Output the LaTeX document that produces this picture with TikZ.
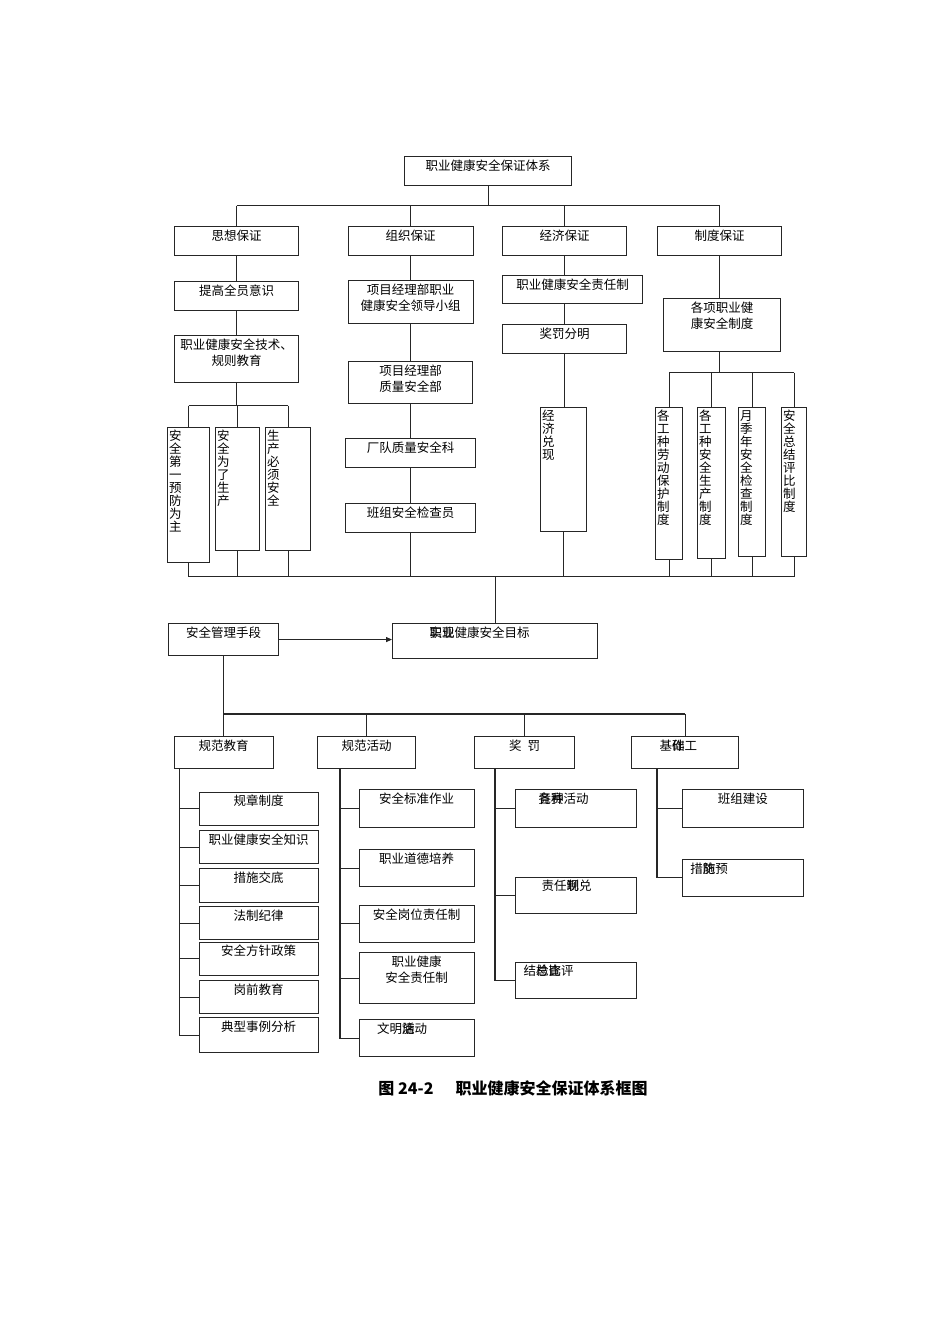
\documentclass[tikz,border=0pt]{standalone}
\usepackage{fontspec}
\setmainfont{Noto Sans CJK SC}
\usetikzlibrary{arrows.meta,calc}
\tikzset{
  bx/.style 2 args={
    draw=black!85, line width=1.1pt, anchor=north west,
    inner xsep=0pt, inner ysep=2.5pt, text width=#1pt,
    text height=11pt, text depth=#2pt-16pt, align=center,
    font=\fontsize{12.5}{16}\selectfont
  },
  vbx/.style 2 args={
    draw=black!85, line width=1.1pt, anchor=north west,
    inner xsep=1.5pt, inner ysep=2pt, text width=#1pt,
    text height=10.5pt, text depth=#2pt-14.5pt, align=left,
    font=\fontsize{12.5}{13}\selectfont
  },
  ln/.style={draw=black!85, line width=1.1pt},
  arr/.style={ln, -{Triangle[length=6pt,width=5pt]}}
}
\begin{document}
\begin{tikzpicture}[x=1pt, y=-1pt]
\useasboundingbox (0,0) rectangle (950,1344);

% upper part
\node[bx={167}{29}] (tp) at (404,156) {职业健康安全保证体系};
\node[bx={124}{29}] (sx) at (174,226) {思想保证};
\node[bx={125}{29}] (zz) at (347.5,226) {组织保证};
\node[bx={124}{29}] (jj) at (502,226) {经济保证};
\node[bx={124}{29}] (zd) at (657,226) {制度保证};

\node[bx={124}{29}] (sx1) at (174,281) {提高全员意识};
\node[bx={124}{47}] (sx2) at (174,335) {职业健康安全技术、\\规则教育};
\node[vbx={39}{135}] (sx3) at (167,427) {安\\全\\第\\一\\预\\防\\为\\主};
\node[vbx={41}{123}] (sx4) at (215,427) {安\\全\\为\\了\\生\\产};
\node[vbx={42}{123}] (sx5) at (265,427) {生\\产\\必\\须\\安\\全};

\node[bx={125}{43}] (zz1) at (347.5,280) {项目经理部职业\\健康安全领导小组};
\node[bx={124}{42}] (zz2) at (348,361) {项目经理部\\质量安全部};
\node[bx={130}{29}] (zz3) at (345,438) {厂队质量安全科};
\node[bx={130}{29}] (zz4) at (345,503) {班组安全检查员};

\node[bx={140}{28}] (jj1) at (502,275) {职业健康安全责任制};
\node[bx={124}{28.5}] (jj2) at (502,324) {奖罚分明};
\node[vbx={43}{124}] (jj3) at (540,407) {经\\济\\兑\\现};

\node[bx={117}{53}] (zd1) at (663,298) {各项职业健\\康安全制度};
\node[vbx={24}{152}] (zd2) at (655,407) {各\\工\\种\\劳\\动\\保\\护\\制\\度};
\node[vbx={25}{151}] (zd3) at (697,407) {各\\工\\种\\安\\全\\生\\产\\制\\度};
\node[vbx={24}{149}] (zd4) at (738,407) {月\\季\\年\\安\\全\\检\\查\\制\\度};
\node[vbx={22}{149}] (zd5) at (781,407) {安\\全\\总\\结\\评\\比\\制\\度};

\coordinate (bus1) at (0,205.7);
\coordinate (sp1) at (0,405.7);
\coordinate (sp2) at (0,372.7);
\coordinate (bus2) at (0,576.5);

\draw[ln] (tp.south) -- (tp.south |- bus1);
\draw[ln] (sx.north |- bus1) -- (zd.north |- bus1);
\foreach \n in {sx,zz,jj,zd}
  \draw[ln] (\n.north |- bus1) -- (\n.north);

\draw[ln] (sx.south) -- (sx1.north) (sx1.south) -- (sx2.north);
\draw[ln] (sx2.south) -- (sx2.south |- sp1);
\draw[ln] (sx3.north |- sp1) -- (sx5.north |- sp1);
\foreach \n in {sx3,sx4,sx5}
  \draw[ln] (\n.north |- sp1) -- (\n.north);

\draw[ln] (zz.south) -- (zz1.north) (zz1.south) -- (zz2.north)
  (zz2.south) -- (zz3.north) (zz3.south) -- (zz4.north);

\draw[ln] (jj.south) -- (jj.south |- jj1.north)
  (jj1.south -| jj.south) -- (jj2.north)
  (jj2.south) -- (jj2.south |- jj3.north);

\draw[ln] (zd.south) -- (zd.south |- zd1.north);
\draw[ln] (zd1.south -| zd.south) -- (zd.south |- sp2);
\draw[ln] (zd2.north |- sp2) -- (zd5.north |- sp2);
\foreach \n in {zd2,zd3,zd4,zd5}
  \draw[ln] (\n.north |- sp2) -- (\n.north);

\foreach \n in {sx3,sx4,sx5,zz4,jj3,zd2,zd3,zd4,zd5}
  \draw[ln] (\n.south) -- (\n.south |- bus2);
\draw[ln] (sx3.south |- bus2) -- (zd5.south |- bus2);

% goal and means
\node[bx={205}{34.5}, align=left] (gl) at (392,623) {\hspace*{37pt}\rlap{实现}职业健康安全目标};
\node[bx={110}{32}] (mg) at (168,623) {安全管理手段};
\draw[ln] (gl.north |- bus2) -- (gl.north);
\draw[arr] (mg.east) -- (mg.east -| gl.west);

\node[bx={99}{32}] (g1) at (173.5,736) {规范教育};
\node[bx={98}{32}] (g2) at (317,736) {规范活动};
\node[bx={100}{32}] (g3) at (474,736) {奖\hspace{6pt}罚};
\node[bx={107}{32}, align=left] (g4) at (631,736) {\hspace*{28pt}基\rlap{础}作工};

\coordinate (bus3) at (0,714);
\draw[ln] (mg.south) -- (g1.north);
\draw[ln] (g1.north |- bus3) -- (g4.north |- bus3);
\foreach \n in {g2,g3,g4}
  \draw[ln] (\n.north |- bus3) -- (\n.north);

% lower part
\node[bx={119}{33.3}] (k1) at (198.5,791.7) {规章制度};
\node[bx={119}{33.3}] (k2) at (198.5,830) {职业健康安全知识};
\node[bx={119}{33.4}] (k3) at (198.5,868.3) {措施交底};
\node[bx={119}{33.3}] (k4) at (198.5,906) {法制纪律};
\node[bx={119}{33.3}] (k5) at (198.5,941.7) {安全方针政策};
\node[bx={119}{33.3}] (k6) at (198.5,980) {岗前教育};
\node[bx={119}{34.4}] (k7) at (198.5,1017.3) {典型事例分析};

\node[bx={115}{37.4}] (a1) at (358.5,789.3) {安全标准作业};
\node[bx={115}{36.7}] (a2) at (358.5,849.3) {职业道德培养};
\node[bx={115}{36.7}] (a3) at (358.5,905) {安全岗位责任制};
\node[bx={115}{50.4}] (a4) at (358.5,952.3) {职业健康\\安全责任制};
\node[bx={115}{36.7}, align=left] (a5) at (358.5,1019.3) {\hspace*{18pt}文明\rlap{施}活动};

\node[bx={121}{37.4}, align=left] (b1) at (515,789.3) {\hspace*{23pt}\rlap{各种}竞赛活动};
\node[bx={121}{36.6}, align=left] (b2) at (515,876.7) {\hspace*{26pt}责任\rlap{制}现兑};
\node[bx={121}{36.6}, align=left] (b3) at (515,961.7) {\hspace*{8pt}结\rlap{总}检\rlap{比}查评};

\node[bx={121}{37.4}] (d1) at (681.7,789.3) {班组建设};
\node[bx={121}{36.7}, align=left] (d2) at (681.7,859) {\hspace*{8pt}措\rlap{防}施预};

\coordinate (s1) at ([xshift=6pt]g1.south west);
\coordinate (s2) at ([xshift=23pt]g2.south west);
\coordinate (s3) at ([xshift=21pt]g3.south west);
\coordinate (s4) at ([xshift=26pt]g4.south west);

\draw[ln] (s1) |- (k7.west);
\foreach \n in {k1,k2,k3,k4,k5,k6}
  \draw[ln] (\n.west -| s1) -- (\n.west);
\draw[ln] (s2) |- (a5.west);
\foreach \n in {a1,a2,a3,a4}
  \draw[ln] (\n.west -| s2) -- (\n.west);
\draw[ln] (s3) |- (b3.west);
\foreach \n in {b1,b2}
  \draw[ln] (\n.west -| s3) -- (\n.west);
\draw[ln] (s4) |- (d2.west);
\draw[ln] (d1.west -| s4) -- (d1.west);

\node[font=\bfseries\fontsize{16}{18}\selectfont, inner sep=0pt] (cap) at (513,1088)
  {图 24-2\hspace{22pt}职业健康安全保证体系框图};
\end{tikzpicture}
\end{document}
